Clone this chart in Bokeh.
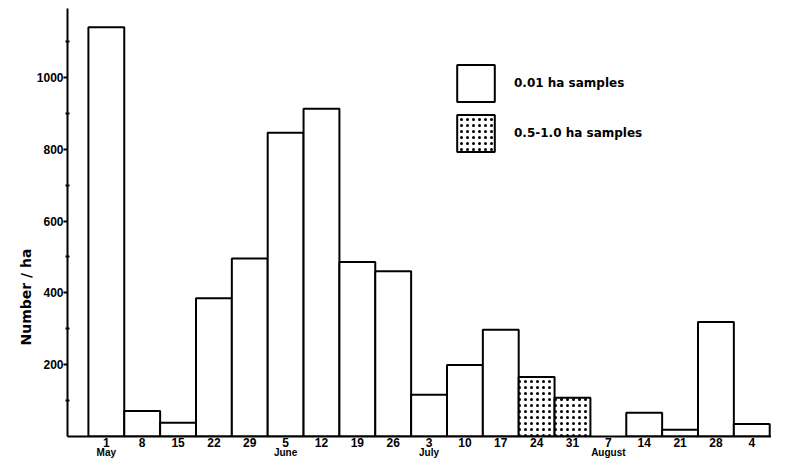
from bokeh.plotting import figure
from bokeh.models import (ColumnDataSource, LinearAxis, FixedTicker, Range1d,
                          Legend, LegendItem, Title)
from bokeh.embed import file_html
from bokeh.resources import INLINE

# ---------------- data ----------------
day_labels = ["1", "8", "15", "22", "29", "5", "12", "19", "26", "3",
              "10", "17", "24", "31", "7", "14", "21", "28", "4"]
counts = [1140, 71, 38, 385, 496, 846, 913, 486, 460, 116,
          199, 297, 166, 108, 0, 66, 19, 319, 35]
sample_type = ["0.01", "0.01", "0.01", "0.01", "0.01", "0.01", "0.01", "0.01", "0.01", "0.01",
               "0.01", "0.01", "0.5-1.0", "0.5-1.0", "0.01", "0.01", "0.01", "0.01", "0.01"]
month_names = ["May", "June", "July", "August"]
month_week_index = [0, 5, 9, 14]
y_major = [200, 400, 600, 800, 1000]
y_minor = [100, 300, 500, 700, 900, 1100]
legend_labels = ["0.01 ha samples", "0.5-1.0 ha samples"]

week_pos = list(range(len(day_labels)))
small = dict(x=[], top=[])
large = dict(x=[], top=[])
for xpos, c, s in zip(week_pos, counts, sample_type):
    if c <= 0:
        continue
    tgt = small if s == "0.01" else large
    tgt["x"].append(xpos)
    tgt["top"].append(c)

TICK_FONT = "Liberation Sans"

p = figure(width=771, height=460, output_backend="svg", toolbar_location=None,
           x_range=Range1d(-1.083, 18.55), y_range=Range1d(0, 1192),
           min_border_left=67, min_border_right=0, min_border_top=8,
           min_border_bottom=0, x_axis_location=None, y_axis_location=None)
p.outline_line_color = None
p.xgrid.grid_line_color = None
p.ygrid.grid_line_color = None
p.background_fill_color = "white"
p.border_fill_color = "white"

r_small = p.vbar(x="x", top="top", width=1.0, bottom=0, source=ColumnDataSource(small),
                 fill_color="white", line_color="black", line_width=2)
r_large = p.vbar(x="x", top="top", width=1.0, bottom=0, source=ColumnDataSource(large),
                 fill_color="white", line_color="black", line_width=2,
                 hatch_pattern="dot", hatch_scale=6, hatch_weight=1, hatch_color="black")

# y axis
yax = LinearAxis(ticker=FixedTicker(ticks=y_major, minor_ticks=y_minor))
yax.axis_line_width = 2
yax.axis_line_color = "black"
yax.major_tick_in = 0
yax.major_tick_out = 4
yax.major_tick_line_width = 2
yax.minor_tick_in = 2
yax.minor_tick_out = 2
yax.minor_tick_line_width = 2
yax.major_label_text_font = TICK_FONT
yax.major_label_text_font_style = "bold"
yax.major_label_text_font_size = "12px"
yax.major_label_text_color = "black"
yax.major_label_standoff = 0
p.add_layout(yax, "left")

# y axis title, placed as a side title so it can sit low like the original
ytitle = Title(text="Number / ha", align="left", offset=91, standoff=0,
               text_font="DejaVu Sans", text_font_style="bold",
               text_font_size="14px", text_color="black")
p.add_layout(ytitle, "left")

# x axis: day numbers
xax = LinearAxis(ticker=FixedTicker(ticks=week_pos, minor_ticks=[]))
xax.major_label_overrides = {i: d for i, d in zip(week_pos, day_labels)}
xax.axis_line_width = 2
xax.axis_line_color = "black"
xax.major_tick_in = 0
xax.major_tick_out = 0
xax.major_label_standoff = 1
xax.major_label_text_font = TICK_FONT
xax.major_label_text_font_style = "bold"
xax.major_label_text_font_size = "12px"
xax.major_label_text_color = "black"
p.add_layout(xax, "below")

# x axis: months
max_ = LinearAxis(ticker=FixedTicker(ticks=month_week_index, minor_ticks=[]))
max_.major_label_overrides = {i: m for i, m in zip(month_week_index, month_names)}
max_.axis_line_color = None
max_.major_tick_in = 0
max_.major_tick_out = 0
max_.major_label_standoff = -3
max_.major_label_text_font = TICK_FONT
max_.major_label_text_font_style = "bold"
max_.major_label_text_font_size = "10px"
max_.major_label_text_color = "black"
p.add_layout(max_, "below")

legend = Legend(items=[LegendItem(label=legend_labels[0], renderers=[r_small]),
                       LegendItem(label=legend_labels[1], renderers=[r_large])],
                location=(385, 280), orientation="vertical",
                glyph_width=47, glyph_height=46, spacing=4,
                padding=0, margin=0,
                label_standoff=15, border_line_color=None, background_fill_alpha=0,
                label_text_font="DejaVu Sans", label_text_font_style="bold",
                label_text_font_size="12px", label_text_color="black")
p.add_layout(legend)

open("out.html", "w").write(file_html(p, INLINE))
